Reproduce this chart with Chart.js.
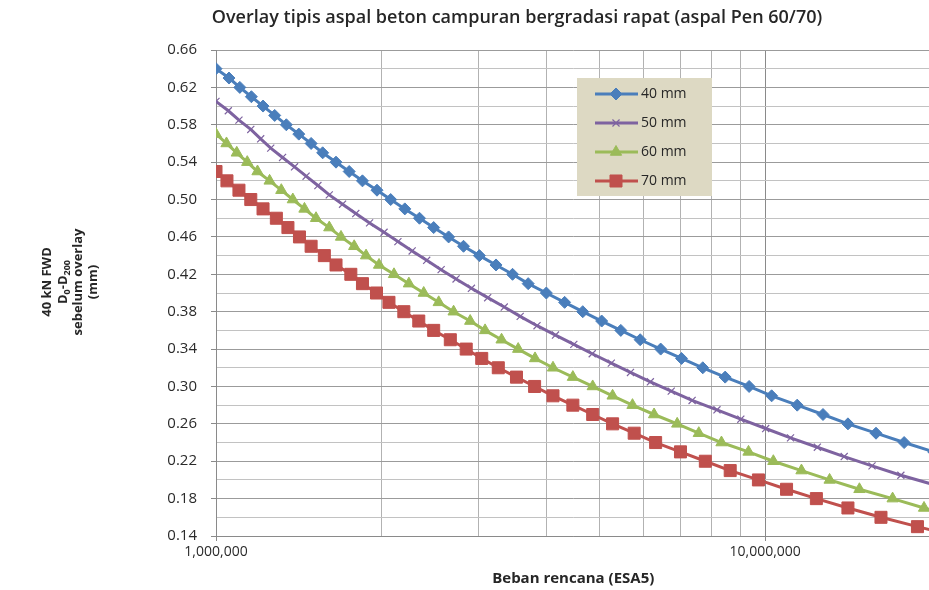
<!DOCTYPE html>
<html><head><meta charset="utf-8">
<script src="https://cdn.jsdelivr.net/npm/chart.js@4.4.1/dist/chart.umd.min.js"></script>
<style>
html,body{margin:0;padding:0;background:#fff;overflow:hidden;}
#wrap{width:940px;height:590px;position:relative;}
</style></head>
<body><div id="wrap"><canvas id="c" width="940" height="590"></canvas></div>
<script>
const chartTitle = 'Overlay tipis aspal beton campuran bergradasi rapat (aspal Pen 60/70)';
const xAxisTitle = 'Beban rencana (ESA5)';
const yTitleLine1 = '40 kN FWD';
const yTitleLine2 = [['D', false], ['0', true], ['-D', false], ['200', true]];
const yTitleLine3 = 'sebelum overlay';
const yTitleLine4 = '(mm)';
const seriesNames = ['40 mm', '50 mm', '60 mm', '70 mm'];

const esa40 = [1000000, 1056000, 1105000, 1160000, 1218000, 1279000, 1343000, 1415000, 1490000, 1564000, 1654000, 1748000, 1848000, 1964000, 2080000, 2207000, 2347000, 2491000, 2652000, 2823000, 3017000, 3235000, 3467000, 3702000, 3995000, 4313000, 4654000, 5038000, 5459000, 5921000, 6452000, 7041000, 7698000, 8456000, 9348000, 10274000, 11437000, 12743000, 14148000, 15915000, 17907000, 20270000];
const d40 = [0.64, 0.63, 0.62, 0.61, 0.60, 0.59, 0.58, 0.57, 0.56, 0.55, 0.54, 0.53, 0.52, 0.51, 0.50, 0.49, 0.48, 0.47, 0.46, 0.45, 0.44, 0.43, 0.42, 0.41, 0.40, 0.39, 0.38, 0.37, 0.36, 0.35, 0.34, 0.33, 0.32, 0.31, 0.30, 0.29, 0.28, 0.27, 0.26, 0.25, 0.24, 0.23];

const esa50 = [1000000, 1053000, 1101000, 1157000, 1206000, 1258000, 1322000, 1390000, 1459000, 1533000, 1608000, 1700000, 1797000, 1904000, 2023000, 2144000, 2276000, 2419000, 2570000, 2736000, 2918000, 3124000, 3349000, 3580000, 3842000, 4151000, 4483000, 4842000, 5246000, 5685000, 6179000, 6745000, 7361000, 8170000, 9029000, 10021000, 11121000, 12446000, 13928000, 15652000, 17663000, 20267000];
const d50 = [0.605, 0.595, 0.585, 0.575, 0.565, 0.555, 0.545, 0.535, 0.525, 0.515, 0.505, 0.495, 0.485, 0.475, 0.465, 0.455, 0.445, 0.435, 0.425, 0.415, 0.405, 0.395, 0.385, 0.375, 0.365, 0.355, 0.345, 0.335, 0.325, 0.315, 0.305, 0.295, 0.285, 0.275, 0.265, 0.255, 0.245, 0.235, 0.225, 0.215, 0.205, 0.195];

const esa60 = [1000000, 1045000, 1091000, 1140000, 1190000, 1252000, 1315000, 1380000, 1449000, 1521000, 1608000, 1689000, 1785000, 1876000, 1981000, 2109000, 2245000, 2389000, 2544000, 2708000, 2903000, 3090000, 3311000, 3550000, 3810000, 4108000, 4465000, 4852000, 5274000, 5733000, 6276000, 6915000, 7570000, 8325000, 9324000, 10348000, 11643000, 13100000, 14845000, 17062000, 19464000, 22400000];
const d60 = [0.57, 0.56, 0.55, 0.54, 0.53, 0.52, 0.51, 0.50, 0.49, 0.48, 0.47, 0.46, 0.45, 0.44, 0.43, 0.42, 0.41, 0.40, 0.39, 0.38, 0.37, 0.36, 0.35, 0.34, 0.33, 0.32, 0.31, 0.30, 0.29, 0.28, 0.27, 0.26, 0.25, 0.24, 0.23, 0.22, 0.21, 0.20, 0.19, 0.18, 0.17, 0.16];

const esa70 = [1000000, 1047000, 1101000, 1157000, 1218000, 1288000, 1352000, 1419000, 1490000, 1575000, 1654000, 1760000, 1848000, 1960000, 2065000, 2198000, 2340000, 2491000, 2671000, 2855000, 3047000, 3266000, 3525000, 3803000, 4108000, 4465000, 4852000, 5274000, 5774000, 6317000, 7011000, 7781000, 8636000, 9721000, 10937000, 12394000, 14148000, 16250000, 18936000, 22213000];
const d70 = [0.53, 0.52, 0.51, 0.50, 0.49, 0.48, 0.47, 0.46, 0.45, 0.44, 0.43, 0.42, 0.41, 0.40, 0.39, 0.38, 0.37, 0.36, 0.35, 0.34, 0.33, 0.32, 0.31, 0.30, 0.29, 0.28, 0.27, 0.26, 0.25, 0.24, 0.23, 0.22, 0.21, 0.20, 0.19, 0.18, 0.17, 0.16, 0.15, 0.14];

const xTickValues = [1000000, 2000000, 3000000, 4000000, 5000000, 6000000, 7000000, 8000000, 9000000, 10000000, 20000000];
const xLabeledValues = [1000000, 10000000];
const yTickValues = [0.14, 0.16, 0.18, 0.20, 0.22, 0.24, 0.26, 0.28, 0.30, 0.32, 0.34, 0.36, 0.38, 0.40, 0.42, 0.44, 0.46, 0.48, 0.50, 0.52, 0.54, 0.56, 0.58, 0.60, 0.62, 0.64, 0.66];
const yLabeledValues = [0.14, 0.18, 0.22, 0.26, 0.30, 0.34, 0.38, 0.42, 0.46, 0.50, 0.54, 0.58, 0.62, 0.66];

const colors = ['#4A7EBB', '#7E63A0', '#9BBB59', '#C0504D'];
const pointStyles = ['rectRot', 'crossRot', 'triangle', 'rect'];
const pointRadii = [6, 5, 6.5, 8.5];
const pointBorders = [1, 1.2, 1, 1];

function pts(xs, ys) { return xs.map((x, i) => ({ x: x, y: ys[i] })); }
const allX = [esa40, esa50, esa60, esa70];
const allY = [d40, d50, d60, d70];

const isLabeledX = v => xLabeledValues.some(t => Math.abs(t - v) < 1);
const isLabeledY = v => yLabeledValues.some(t => Math.abs(t - v) < 1e-6);

Chart.defaults.font.family = "'Open Sans', sans-serif";
Chart.defaults.color = '#2a2a2a';

const overlay = {
  id: 'overlay',
  afterDraw(chart) {
    const ctx = chart.ctx;
    const ca = chart.chartArea;
    ctx.save();
    ctx.fillStyle = '#262626';
    ctx.textBaseline = 'middle';
    ctx.textAlign = 'center';
    ctx.font = '600 18px "Open Sans"';
    ctx.fillText(chartTitle, 517, 18);
    ctx.font = 'bold 15px "Open Sans"';
    ctx.fillText(xAxisTitle, (ca.left + ca.right) / 2, 579);

    // y title (rotated)
    const cy = 282;
    const cols = [47, 63, 78, 93];
    const drawRot = (x, fn) => { ctx.save(); ctx.translate(x, cy); ctx.rotate(-Math.PI / 2); fn(); ctx.restore(); };
    ctx.font = 'bold 13px "Open Sans"';
    drawRot(cols[0], () => ctx.fillText(yTitleLine1, 0, 0));
    drawRot(cols[1], () => {
      const big = 'bold 13px "Open Sans"', small = 'bold 9px "Open Sans"';
      let w = 0;
      yTitleLine2.forEach(([t, sub]) => { ctx.font = sub ? small : big; w += ctx.measureText(t).width; });
      let x = -w / 2;
      ctx.textAlign = 'left';
      yTitleLine2.forEach(([t, sub]) => {
        ctx.font = sub ? small : big;
        ctx.fillText(t, x, sub ? 4 : 0);
        x += ctx.measureText(t).width;
      });
      ctx.textAlign = 'center';
    });
    ctx.font = 'bold 13px "Open Sans"';
    drawRot(cols[2], () => ctx.fillText(yTitleLine3, 0, 0));
    drawRot(cols[3], () => ctx.fillText(yTitleLine4, 0, 0));

    // legend
    const lx = 577, ly = 78, lw = 135, lh = 118;
    ctx.fillStyle = '#DDD9C3';
    ctx.fillRect(lx, ly, lw, lh);
    const rows = [94, 123, 152, 181];
    chart.data.datasets.forEach((ds, i) => {
      const y = rows[i];
      ctx.strokeStyle = ds.borderColor;
      ctx.lineWidth = 3;
      ctx.beginPath(); ctx.moveTo(595, y); ctx.lineTo(638, y); ctx.stroke();
      ctx.fillStyle = ds.pointBackgroundColor;
      ctx.strokeStyle = ds.pointBorderColor;
      ctx.lineWidth = ds.pointBorderWidth;
      Chart.helpers.drawPoint(ctx, { pointStyle: ds.pointStyle, radius: ds.pointRadius, rotation: 0, borderWidth: ds.pointBorderWidth }, 616, y);
      ctx.fillStyle = '#262626';
      ctx.font = '14px "Open Sans"';
      ctx.textAlign = 'left';
      ctx.fillText(ds.label, 641, y);
    });
    ctx.restore();
  }
};

const datasets = seriesNames.map((name, i) => ({
  label: name,
  data: pts(allX[i], allY[i]),
  borderColor: colors[i],
  backgroundColor: colors[i],
  borderWidth: 3,
  pointStyle: pointStyles[i],
  pointRadius: pointRadii[i],
  pointHoverRadius: pointRadii[i],
  pointBackgroundColor: colors[i],
  pointBorderColor: colors[i],
  pointBorderWidth: pointBorders[i],
  tension: 0,
  fill: false
}));

new Chart(document.getElementById('c'), {
  type: 'line',
  data: { datasets: datasets },
  options: {
    responsive: false,
    animation: false,
    layout: { padding: { left: 0, right: 5, top: 50, bottom: 0 } },
    plugins: { legend: { display: false }, title: { display: false }, tooltip: { enabled: false } },
    scales: {
      x: {
        type: 'logarithmic',
        min: 1000000,
        max: 20000000,
        afterBuildTicks: s => { s.ticks = xTickValues.map(v => ({ value: v })); },
        afterFit: s => { s.height = 54; },
        ticks: {
          autoSkip: false, maxRotation: 0, padding: 3,
          font: { size: 14 }, color: '#2a2a2a',
          callback: v => isLabeledX(v) ? Number(v).toLocaleString('en-US') : ''
        },
        grid: {
          color: c => (c.tick && isLabeledX(c.tick.value)) ? '#8a8a8a' : '#b2b2b2',
          tickColor: c => (c.tick && isLabeledX(c.tick.value)) ? '#8a8a8a' : 'rgba(0,0,0,0)',
          tickLength: 5, lineWidth: 1
        },
        border: { color: '#8a8a8a', width: 1 }
      },
      y: {
        min: 0.14,
        max: 0.66,
        afterBuildTicks: s => { s.ticks = yTickValues.map(v => ({ value: v })); },
        afterFit: s => { s.width = 216; },
        ticks: {
          autoSkip: false, padding: 14,
          font: { size: 15 }, color: '#2a2a2a',
          callback: v => isLabeledY(v) ? Number(v).toFixed(2) : ''
        },
        grid: {
          color: c => (c.tick && isLabeledY(c.tick.value)) ? '#9b9b9b' : '#c2c2c2',
          tickColor: c => (c.tick && isLabeledY(c.tick.value)) ? '#8a8a8a' : 'rgba(0,0,0,0)',
          tickLength: 5, lineWidth: 1
        },
        border: { color: '#8a8a8a', width: 1 }
      }
    }
  },
  plugins: [overlay]
});
</script>
</body></html>
